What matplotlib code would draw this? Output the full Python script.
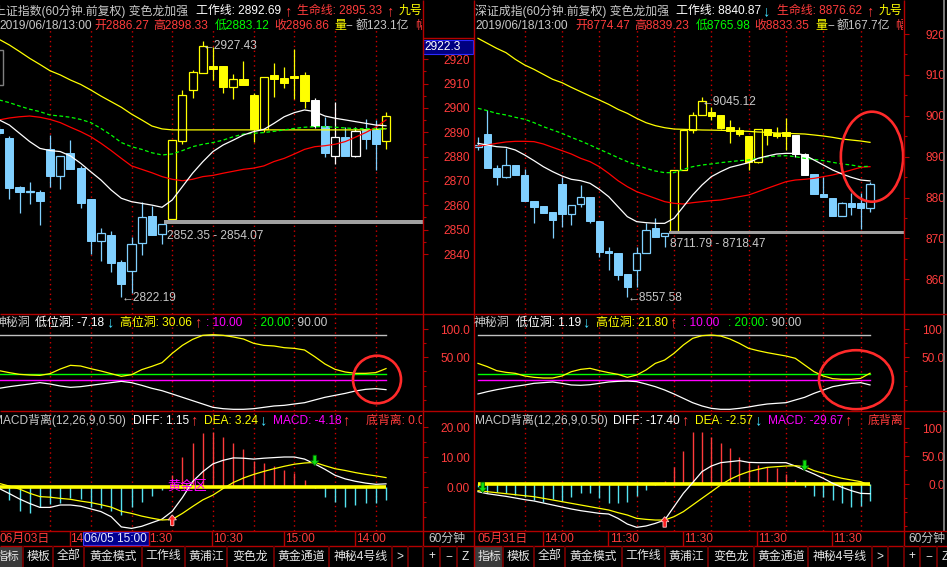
import matplotlib
matplotlib.use('Agg')
import matplotlib.pyplot as plt
from matplotlib.patches import Rectangle, Ellipse, Polygon
from matplotlib.transforms import Bbox, TransformedBbox

# ====================== DATA : 上证指数 (60分钟) ======================
sh_open = [2891.5, 2887.8, 2867.4, 2865.6, 2865.5, 2883.2, 2872.1, 2881.5, 2875.5, 2862.6,
           2845.2, 2847.8, 2836.7, 2832.9, 2844.4, 2855.6, 2848.1, 2854.2, 2886.3, 2907.3,
           2914.2, 2917.3, 2917.3, 2908.8, 2911.8, 2905.3, 2891.4, 2913.6, 2912.2, 2913.2,
           2913.4, 2903.3, 2892.6, 2880.3, 2888.1, 2880.3, 2891.2, 2891.2, 2886.27]
sh_high = [2892.5, 2888.5, 2867.9, 2869.5, 2866.2, 2888.9, 2880.1, 2886.8, 2876.2, 2862.6,
           2850.7, 2849.5, 2837.5, 2846.8, 2861.2, 2859.9, 2852.2, 2886.8, 2907.4, 2915.6,
           2927.43, 2924.9, 2917.3, 2914.0, 2919.3, 2906.0, 2912.6, 2918.4, 2916.7, 2924.1,
           2914.9, 2904.0, 2896.4, 2902.6, 2892.3, 2892.3, 2895.3, 2895.1, 2898.33]
sh_low = [2889.0, 2862.6, 2856.7, 2860.4, 2852.1, 2867.7, 2866.6, 2875.1, 2858.8, 2840.0,
          2837.3, 2832.6, 2822.19, 2823.8, 2839.5, 2848.0, 2844.0, 2854.2, 2885.3, 2904.2,
          2914.2, 2911.5, 2906.0, 2903.6, 2909.3, 2886.2, 2890.0, 2904.7, 2908.4, 2903.6,
          2899.9, 2891.9, 2879.9, 2877.0, 2880.3, 2879.7, 2883.0, 2874.5, 2883.12]
sh_close = [2889.9, 2867.3, 2865.5, 2865.9, 2861.9, 2872.2, 2880.1, 2875.1, 2861.1, 2845.5,
            2848.5, 2836.2, 2827.7, 2844.0, 2855.3, 2848.0, 2852.2, 2886.8, 2905.2, 2914.7,
            2925.5, 2916.2, 2908.8, 2911.8, 2909.3, 2891.4, 2912.6, 2912.1, 2910.4, 2912.5,
            2903.0, 2892.6, 2881.6, 2888.0, 2880.3, 2890.5, 2887.4, 2885.2, 2896.86]
sh_kind = list('bbbbbbbbbbbbbbbbbyyyyyyyyyyyyyywbwbwbby')
sh_yellow = [2928.2, 2925.9, 2923.2, 2920.4, 2917.9, 2915.3, 2913.6, 2911.5, 2909.7, 2907.4,
             2904.9, 2902.6, 2900.3, 2897.5, 2895.1, 2892.6, 2891.4, 2891.0, 2891.0, 2891.0,
             2891.0, 2891.0, 2891.0, 2891.0, 2891.0, 2891.0, 2891.0, 2891.0, 2891.0, 2891.0,
             2891.0, 2891.0, 2891.0, 2891.0, 2891.0, 2891.0, 2891.0, 2891.2, 2891.5]
sh_red = [2895.1, 2895.9, 2896.4, 2896.7, 2896.2, 2895.3, 2894.0, 2892.1, 2890.3, 2888.2,
          2885.5, 2882.5, 2879.3, 2876.2, 2874.8, 2873.4, 2871.8, 2870.7, 2870.1, 2870.7,
          2871.8, 2872.3, 2873.2, 2874.0, 2874.8, 2875.3, 2876.2, 2878.0, 2879.3, 2881.1,
          2883.0, 2884.1, 2884.5, 2885.1, 2886.2, 2888.0, 2889.9, 2892.1, 2895.1]
sh_green = [2903.3, 2902.2, 2900.8, 2899.5, 2898.5, 2897.1, 2896.7, 2896.2, 2895.3, 2894.0,
            2891.6, 2888.9, 2885.8, 2884.1, 2883.0, 2881.6, 2880.7, 2881.1, 2882.5, 2884.1,
            2885.1, 2885.8, 2886.8, 2888.2, 2889.3, 2889.6, 2889.9, 2890.4, 2891.0, 2891.6,
            2892.1, 2892.3, 2892.3, 2892.1, 2891.8, 2891.5, 2891.5, 2891.4, 2891.4]
sh_white = [2895.1, 2893.0, 2889.6, 2886.2, 2883.4, 2882.5, 2882.1, 2880.3, 2877.3, 2873.8,
            2870.4, 2866.3, 2862.9, 2861.5, 2860.8, 2860.1, 2859.2, 2862.2, 2867.7, 2873.2,
            2877.9, 2882.1, 2884.8, 2886.8, 2888.9, 2890.3, 2891.2, 2893.7, 2896.4, 2898.1,
            2899.2, 2898.5, 2896.7, 2895.8, 2895.1, 2894.4, 2893.7, 2893.0, 2892.69]
sh_band = (2852.35, 2854.07)
sh_band_start = 16
sh_hole_hi = [26.4, 22.9, 19.9, 18.7, 18.1, 21.1, 29.3, 35.8, 34.6, 29.9, 25.8, 21.1, 16.4, 19.3,
              28.2, 34.0, 40.5, 57.0, 71.1, 81.7, 88.8, 90.0, 88.8, 85.9, 82.3, 74.7, 71.1, 70.0,
              67.0, 65.8, 62.9, 51.1, 38.2, 28.7, 24.0, 21.7, 21.7, 22.9, 30.06]
sh_hole_lo = [-4.8, -1.9, 0.5, 2.8, 5.2, 2.8, -0.7, -3.1, -1.9, 0.5, 2.8, 5.2, 7.5, 5.2, 0.5,
              -4.8, -9.0, -14.8, -20.7, -26.6, -32.5, -38.4, -40.8, -41.9, -41.9, -40.8, -38.4,
              -36.0, -34.9, -32.5, -30.2, -25.4, -20.7, -17.2, -13.7, -9.5, -6.6, -5.4, -7.18]
sh_macd = [-0.5, -4.2, -7.8, -8.4, -6.4, -5.6, -5.1, -3.4, -4.0, -6.4, -7.0, -7.8, -9.2, -6.7,
           -4.8, -2.8, -0.9, 4.1, 10.2, 14.7, 18.0, 18.6, 16.7, 14.9, 12.7, 8.9, 8.0, 7.2, 5.8,
           4.7, 2.4, -0.3, -3.3, -4.8, -6.4, -5.9, -5.1, -5.3, -4.18]
sh_diff = [-0.4, -2.1, -3.9, -5.4, -6.7, -6.7, -5.9, -5.9, -6.3, -7.2, -8.1, -9.8, -13.2, -13.7,
           -13.0, -11.8, -10.6, -8.0, -3.4, 1.9, 5.2, 7.8, 9.0, 9.8, 9.7, 9.4, 9.7, 9.9, 10.1,
           10.1, 9.4, 7.8, 6.0, 4.0, 2.8, 2.0, 1.4, 1.0, 1.15]
sh_dea = [1.3, 0.4, -0.6, -2.0, -3.1, -3.3, -3.7, -4.0, -4.6, -5.1, -5.8, -6.6, -8.0, -8.7, -9.6,
          -10.3, -10.9, -10.7, -8.7, -6.4, -4.2, -2.6, -0.4, 1.6, 3.1, 4.3, 5.3, 6.2, 7.0, 7.7,
          8.1, 8.3, 7.2, 6.2, 5.6, 4.9, 4.3, 3.8, 3.24]
sh_up_arrows = [(17, -9.2)]
sh_down_arrows = [(31, 7.2)]
sh_price_ticks = [2840, 2850, 2860, 2870, 2880, 2890, 2900, 2910, 2920]
sh_price_labels = ['2840', '2850', '2860', '2870', '2880', '2890', '2900', '2910', '2920']
sh_macd_ticks = [20, 10, 0]
sh_macd_labels = ['20.00', '10.00', '0.00']

# ====================== DATA : 深证成指 (60分钟) ======================
sz_open = [8924.5, 8955.5, 8872.4, 8850.4, 8879.7, 8855.3, 8792.5, 8779.5, 8764.8, 8833.3,
           8759.9, 8784.4, 8800.7, 8743.6, 8670.3, 8663.7, 8613.2, 8622.9, 8663.7, 8724.9,
           8706.1, 8718.3, 8867.5, 8965.3, 9002.0, 9010.1, 9002.0, 8971.8, 8965.3, 8950.6,
           8887.9, 8966.9, 8957.1, 8960.4, 8953.1, 8906.6, 8857.7, 8808.8, 8799.8, 8755.8,
           8787.6, 8786.0, 8774.47]
sz_high = [8949.0, 9014.2, 8879.7, 8920.5, 8879.7, 8869.1, 8792.5, 8779.5, 8764.8, 8851.2,
           8782.7, 8830.0, 8800.7, 8743.6, 8680.0, 8663.7, 8613.2, 8680.0, 8737.1, 8749.3,
           8714.3, 8867.5, 8965.3, 9010.1, 9045.12, 9022.3, 9002.0, 8989.7, 8973.4, 8950.6,
           8966.9, 8966.9, 8973.4, 8993.8, 8953.1, 8909.9, 8857.7, 8851.2, 8799.8, 8790.1,
           8810.4, 8810.4, 8839.23]
sz_low = [8916.0, 8871.6, 8830.0, 8847.1, 8855.3, 8792.5, 8738.7, 8763.2, 8700.4, 8728.9,
          8732.2, 8776.2, 8737.1, 8655.6, 8622.9, 8598.5, 8557.58, 8582.2, 8663.7, 8704.5,
          8680.0, 8716.0, 8867.5, 8957.1, 9002.0, 8989.7, 8968.5, 8932.7, 8950.6, 8867.5,
          8883.8, 8928.6, 8944.9, 8916.4, 8900.1, 8855.3, 8808.8, 8800.7, 8755.8, 8755.8,
          8757.5, 8722.4, 8765.98]
sz_close = [8929.0, 8871.6, 8850.4, 8878.9, 8855.3, 8792.5, 8777.8, 8763.2, 8745.2, 8760.7,
            8782.7, 8800.7, 8743.6, 8667.8, 8665.4, 8610.7, 8582.2, 8663.7, 8720.8, 8704.5,
            8714.3, 8867.5, 8965.3, 9002.0, 9037.0, 8999.5, 8971.0, 8962.8, 8954.7, 8887.9,
            8966.9, 8953.9, 8950.6, 8950.6, 8906.6, 8855.3, 8808.8, 8800.7, 8755.8, 8786.0,
            8778.0, 8773.8, 8833.35]
sz_kind = list('bbbbbbbbbbbbbbbbbbbbbyyyyyyyyyyyyywwbbbbbbb')
sz_yellow = [9189.4, 9177.2, 9165.0, 9154.4, 9138.1, 9124.2, 9113.6, 9101.4, 9089.2, 9081.0,
             9069.6, 9059.0, 9048.4, 9038.6, 9028.0, 9015.8, 9006.0, 8993.8, 8983.2, 8975.9,
             8970.9, 8967.7, 8966.9, 8966.1, 8965.3, 8965.0, 8964.5, 8963.7, 8962.8, 8962.0,
             8960.4, 8959.6, 8958.0, 8957.1, 8956.3, 8955.5, 8953.1, 8950.6, 8947.3, 8943.3,
             8940.8, 8938.4, 8935.1]
sz_red = [8926.2, 8928.6, 8932.7, 8936.0, 8937.6, 8937.6, 8936.8, 8931.1, 8922.9, 8914.8,
          8906.6, 8896.0, 8887.9, 8875.6, 8859.3, 8841.4, 8826.7, 8814.5, 8806.4, 8798.2,
          8790.1, 8786.0, 8784.4, 8787.6, 8790.1, 8792.5, 8794.1, 8798.2, 8802.3, 8806.4,
          8814.5, 8822.7, 8830.8, 8838.9, 8843.0, 8844.7, 8847.1, 8851.2, 8855.3, 8861.0,
          8867.5, 8874.0, 8875.6]
sz_green = [9018.3, 9012.6, 9006.0, 9002.0, 8996.3, 8991.4, 8983.2, 8973.4, 8965.3, 8957.1,
            8947.3, 8938.4, 8928.6, 8918.0, 8908.2, 8897.6, 8887.9, 8879.7, 8871.6, 8865.0,
            8861.0, 8861.0, 8869.1, 8875.6, 8879.7, 8882.2, 8885.4, 8887.9, 8890.3, 8891.9,
            8896.0, 8900.1, 8901.7, 8902.5, 8900.1, 8896.0, 8893.6, 8890.3, 8886.2, 8882.2,
            8879.7, 8875.6, 8876.62]
sz_white = [8932.7, 8928.6, 8924.5, 8922.9, 8916.4, 8904.2, 8890.3, 8875.6, 8863.4, 8852.8,
            8844.7, 8841.4, 8834.9, 8820.2, 8802.3, 8777.8, 8753.4, 8741.2, 8738.7, 8737.1,
            8737.1, 8749.3, 8777.8, 8806.4, 8830.8, 8851.2, 8863.4, 8874.0, 8879.7, 8885.4,
            8896.0, 8901.7, 8906.6, 8908.2, 8908.2, 8904.2, 8891.9, 8879.7, 8867.5, 8857.7,
            8849.6, 8843.0, 8840.87]
sz_band = (8711.79, 8718.47)
sz_band_start = 20
sz_hole_hi = [39.3, 33.5, 26.4, 23.4, 21.7, 17.0, 14.6, 13.4, 13.4, 17.0, 24.6, 28.7, 30.5, 26.4,
              22.9, 19.9, 14.6, 18.7, 27.6, 39.3, 45.2, 57.0, 71.7, 83.5, 88.2, 89.4, 87.6, 82.3,
              74.7, 65.8, 61.7, 58.2, 55.2, 52.3, 48.2, 36.4, 24.6, 17.0, 12.3, 11.1, 11.1, 12.8,
              21.80]
sz_hole_lo = [-14.8, -10.7, -7.2, -4.2, -1.3, 1.1, 4.0, 5.2, 6.4, 4.0, 1.1, 0.5, 1.6, 4.0, 6.4,
              7.5, 8.1, 7.0, 2.8, -1.9, -7.8, -14.8, -22.5, -30.2, -36.0, -40.2, -41.9, -41.9,
              -40.2, -37.8, -34.9, -32.5, -31.3, -30.2, -25.4, -20.7, -13.7, -7.8, -1.9, 1.1,
              4.0, 5.2, 1.19]
sz_macd = [-5.0, -15.6, -13.8, -16.8, -19.8, -24.0, -28.7, -31.7, -27.5, -30.5, -24.0, -15.6,
           -16.8, -25.7, -33.5, -34.7, -31.7, -21.6, -10.8, -2.0, 6.0, 31.1, 59.9, 94.0, 94.0,
           85.0, 74.3, 64.1, 49.1, 40.1, 35.0, 31.1, 28.0, 18.0, 7.2, -4.8, -21.6, -22.8, -28.7,
           -34.7, -40.7, -39.5, -29.67]
sz_diff = [-13.8, -17.4, -19.8, -22.2, -25.1, -28.1, -30.5, -34.1, -37.7, -41.3, -44.9, -47.9,
           -50.3, -52.7, -53.9, -61.7, -71.9, -77.8, -75.4, -70.7, -64.7, -40.7, -16.8, 2.4,
           22.2, 32.3, 38.3, 40.1, 41.9, 38.9, 38.3, 38.3, 38.3, 38.3, 32.3, 25.1, 18.0, 10.2,
           1.2, -6.0, -12.0, -16.8, -17.40]
sz_dea = [-12.0, -13.8, -15.6, -17.4, -19.2, -21.0, -22.8, -25.7, -28.7, -31.7, -34.7, -37.7,
          -40.7, -43.7, -46.7, -51.5, -55.7, -61.7, -63.5, -64.7, -64.7, -58.7, -49.7, -37.7,
          -25.7, -13.8, -1.8, 8.4, 16.2, 22.2, 26.3, 29.9, 31.1, 32.3, 32.9, 31.1, 24.0, 19.2,
          14.4, 10.2, 7.2, 4.2, -2.57]
sz_up_arrows = [(20, -58.7)]
sz_down_arrows = [(0.5, -15.6), (35, 24.0)]
sz_price_ticks = [8600, 8700, 8800, 8900, 9000, 9100, 9200]
sz_price_labels = ['8600', '8700', '8800', '8900', '9000', '9100', '9200']
sz_macd_ticks = [100, 50, 0]
sz_macd_labels = ['100.0', '50.00', '0.00']

hole_ticks = [100, 50]
hole_labels = ['100.0', '50.00']
hole_levels = [90, 20, 10]

# ====================== STYLE ======================
W, H = 947, 567
plt.rcParams['font.family'] = ['Liberation Sans', 'Noto Sans CJK SC', 'DejaVu Sans']
plt.rcParams['axes.unicode_minus'] = False
FS = 8.6
RED_AX = '#b40000'
RED_TX = '#ff3c3c'
GRID_C = '#d00000'
GRAY = '#c8c8c8'
CYAN = '#40e0ff'
HIST_CYAN = '#55e3f0'
HIST_RED = '#ff3a3a'
MAG = '#ff00ff'
GRN = '#00ff00'
YEL = '#ffff00'
KCOL = {'b': '#80d0ff', 'y': '#ffff00', 'w': '#ffffff'}

fig = plt.figure(figsize=(W / 100, H / 100), dpi=100, facecolor='black')


def rect_px(x0, y0, x1, y1):
    return [x0 / W, 1 - y1 / H, (x1 - x0) / W, (y1 - y0) / H]


def setup(ax, xlim, ylim, ticks, labels, minor, pad_px):
    ax.set_facecolor('black')
    ax.set_xlim(*xlim)
    ax.set_ylim(*ylim)
    for s in ax.spines.values():
        s.set_visible(False)
    ax.set_xticks([])
    ax.yaxis.tick_right()
    ax.set_yticks(ticks)
    ax.set_yticklabels(labels)
    ax.set_yticks(minor, minor=True)
    ax.tick_params(axis='y', which='major', length=3.6, width=0.8, colors=RED_AX,
                   labelcolor=RED_TX, labelsize=FS, pad=pad_px * 0.72)
    ax.tick_params(axis='y', which='minor', length=2.0, width=0.8, colors=RED_AX)
    for t in ax.get_yticklabels():
        t.set_horizontalalignment('right')


def candles(ax, o, h, l, c, kind, width):
    for i in range(len(o)):
        col = KCOL[kind[i]]
        top, bot = max(o[i], c[i]), min(o[i], c[i])
        if c[i] > o[i]:
            ax.vlines(i, top, h[i], color=col, lw=0.9, zorder=2)
            ax.vlines(i, l[i], bot, color=col, lw=0.9, zorder=2)
            ax.add_patch(Rectangle((i - width / 2, bot), width, top - bot, facecolor='black',
                                   edgecolor=col, lw=0.9, zorder=2))
        else:
            ax.vlines(i, l[i], h[i], color=col, lw=0.9, zorder=2)
            ax.add_patch(Rectangle((i - width / 2, bot), width, top - bot, facecolor=col,
                                   edgecolor=col, lw=0.7, zorder=2))


def build_panel(x0, x1, xlim, cw, o, h, l, c, kind, yel, red, grn, wht, band, band_start,
                band_off, main_ylim, pticks, plabels, pminor, hi, lo, macd, diff, dea,
                mticks, mlabels, mminor, mylim, grid, pad_px, notes):
    n = len(o)
    idx = list(range(n))
    axm = fig.add_axes(rect_px(x0, 30, x1, 313.5))
    axi = fig.add_axes(rect_px(x0, 313.5, x1, 410.5))
    axd = fig.add_axes(rect_px(x0, 410.5, x1, 530.5))
    setup(axm, xlim, main_ylim, pticks, plabels, pminor, pad_px)
    setup(axi, xlim, (-44.0, 127.4), hole_ticks, hole_labels, [75, 25, 0, -25], pad_px)
    setup(axd, xlim, mylim, mticks, mlabels, mminor, pad_px)
    for ax in (axm, axi, axd):
        for g in grid:
            ax.axvline(g, color=GRID_C, lw=1.0, ls=(0, (1, 2.5)), zorder=0.5)
    # main chart
    candles(axm, o, h, l, c, kind, cw)
    axm.fill_between([band_start + band_off, xlim[1] + 1], band[0], band[1], color='#a0a0a0',
                     lw=0, zorder=3)
    axm.plot(idx, yel, color=YEL, lw=0.9, zorder=4)
    axm.plot(idx, red, color='#ff0000', lw=0.9, zorder=4)
    axm.plot(idx, grn, color=GRN, lw=0.9, ls=(0, (3, 2)), zorder=4)
    axm.plot(idx, wht, color='#ffffff', lw=0.9, zorder=4)
    for (xi, yv, txt, dy) in notes:
        axm.annotate(txt, xy=(xi, yv), xytext=(0, dy), textcoords='offset points',
                     color=GRAY, fontsize=FS, ha='left', va='center', zorder=6)
    # 神秘洞
    axi.plot([0, n - 1], [hole_levels[0]] * 2, color='#c0c0c0', lw=1.0)
    axi.plot([0, n - 1], [hole_levels[1]] * 2, color=GRN, lw=1.0)
    axi.plot([0, n - 1], [hole_levels[2]] * 2, color=MAG, lw=1.0)
    axi.plot(idx, hi, color=YEL, lw=0.9)
    axi.plot(idx, lo, color='#ffffff', lw=0.9)
    # MACD
    cols = [HIST_RED if v > 0 else HIST_CYAN for v in macd]
    axd.vlines(idx, 0, macd, colors=cols, lw=1.0, zorder=2)
    axd.plot([0, n - 1], [0, 0], color=YEL, lw=2.6, zorder=3, solid_capstyle='butt')
    axd.plot(idx, diff, color='#ffffff', lw=0.9, zorder=4)
    axd.plot(idx, dea, color=YEL, lw=0.9, zorder=4)
    return axm, axi, axd


# left panel
axm_l, axi_l, axd_l = build_panel(
    0, 422.5, (0.0818, 41.585), 0.8, sh_open, sh_high, sh_low, sh_close, sh_kind,
    sh_yellow, sh_red, sh_green, sh_white, sh_band, sh_band_start, 0.2,
    (2815.55, 2932.05), sh_price_ticks, sh_price_labels,
    [2845, 2855, 2865, 2875, 2885, 2895, 2905, 2915, 2925],
    sh_hole_hi, sh_hole_lo, sh_macd, sh_diff, sh_dea, sh_macd_ticks, sh_macd_labels,
    [15, 5, -5, -10], (-14.4, 25.6), [5, 9, 13, 17, 21, 25, 29, 33, 37], 42.5,
    [(20, sh_high[20], '←2927.43', -3.5), (12, sh_low[12], '←2822.19', -0.7),
     (16.45, sh_band[0], '2852.35 - 2854.07', -8.5)])
axd_l.text(18.45, 0.3, '黄金区', color=MAG, fontsize=9.5, ha='center', va='center', zorder=5)

# right panel
axm_r, axi_r, axd_r = build_panel(
    474.5, 903.5, (-0.375, 45.59), 0.82, sz_open, sz_high, sz_low, sz_close, sz_kind,
    sz_yellow, sz_red, sz_green, sz_white, sz_band, sz_band_start, 0.5,
    (8516.6, 9209.8), sz_price_ticks, sz_price_labels, [8650, 8750, 8850, 8950, 9050, 9150],
    sz_hole_hi, sz_hole_lo, sz_macd, sz_diff, sz_dea, sz_macd_ticks, sz_macd_labels,
    [75, 25, -25, -50, -75], (-83.5, 132.0), [5, 9, 13, 17, 21, 25, 29, 33, 37, 41], 43.2,
    [(24, sz_high[24], '←9045.12', -3.6), (16, sz_low[16], '←8557.58', -1.1),
     (20.57, sz_band[0], '8711.79 - 8718.47', -7.5)])

# ====================== OVERLAY (frames, headers, tabs) ======================
ov = fig.add_axes([0, 0, 1, 1])
ov.set_xlim(0, W)
ov.set_ylim(H, 0)
ov.set_facecolor('none')
ov.axis('off')
ov.set_zorder(10)


def to_ov(ax, x, y):
    px, py = ax.transData.transform((x, y))
    return px * 100 / fig.dpi, H - py * 100 / fig.dpi


def arrow(ax, x, y, up, fc, ec):
    tx, ty = to_ov(ax, x, y)
    s = 1 if up else -1
    pts = [(tx, ty), (tx - 4.2, ty + s * 5), (tx - 1.7, ty + s * 5), (tx - 1.7, ty + s * 10.5),
           (tx + 1.7, ty + s * 10.5), (tx + 1.7, ty + s * 5), (tx + 4.2, ty + s * 5)]
    ov.add_patch(Polygon(pts, closed=True, facecolor=fc, edgecolor=ec, lw=0.6, zorder=6))


for ax, ups, downs in ((axd_l, sh_up_arrows, sh_down_arrows), (axd_r, sz_up_arrows, sz_down_arrows)):
    for x, y in ups:
        arrow(ax, x, y, True, '#ff2020', '#ffc8c8')
    for x, y in downs:
        arrow(ax, x, y, False, '#10e010', '#006000')


def hline(y, x0, x1, c=RED_AX, lw=1.0):
    ov.plot([x0, x1], [y, y], color=c, lw=lw, solid_capstyle='butt')


def vline(x, y0, y1, c=RED_AX, lw=1.0):
    ov.plot([x, x], [y0, y1], color=c, lw=lw, solid_capstyle='butt')


def clip_bb(x0, x1):
    return TransformedBbox(Bbox.from_extents(x0 / W, 0, x1 / W, 1), fig.transFigure)


def segs(items, y, cx0, cx1, fs=FS):
    bb = clip_bb(cx0, cx1)
    for x, s, c in items:
        size = 10.5 if s in ('↑', '↓') else fs
        t = ov.text(x, y, s, color=c, fontsize=size, ha='left', va='center', clip_on=True)
        t.set_clip_box(bb)


# right edge scrollbar / clip
ov.add_patch(Rectangle((944.5, 0), 3, 531, facecolor='black', edgecolor='none'))
vline(944, 0, 531, c='#909090', lw=1.2)

# frame lines
for y in (313.5, 410.5, 530.5, 545.5):
    hline(y, 0, W)
vline(422.5, 0, 545.5)
vline(473.5, 0, H)
vline(903.5, 0, 545.5)
hline(38, 422.5, 473.5)
ov.add_patch(Rectangle((-4, 50), 6.5, 35, facecolor='none', edgecolor='#808080', lw=1.0))

# current price box
ov.add_patch(Rectangle((423, 39.5), 50, 14.5, facecolor='#000080', edgecolor='#2a2aff', lw=0.8))
ov.text(424.5, 46.8, '2922.3', color='white', fontsize=FS, ha='left', va='center')

# headers left
segs([(-6, '上证指数(60分钟.前复权) 变色龙加强', GRAY), (196, '工作线: 2892.69', 'white'),
      (284, '↑', RED_TX), (297, '生命线: 2895.33', RED_TX), (386, '↑', RED_TX),
      (399, '九号', YEL)], 11.0, 0, 422)
segs([(-1, '2019/06/18/13:00', GRAY), (94, '开2886.27', RED_TX), (153, '高2898.33', RED_TX),
      (215, '低2883.12', GRN), (274, '收2896.86', RED_TX), (334, '量', YEL),
      (346, '--', GRAY), (356, '额123.1亿', GRAY), (415, '幅', RED_TX)], 26.0, 0, 422)
segs([(-5, '神秘洞', GRAY), (35, '低位洞: -7.18', 'white'), (106.5, '↓', CYAN),
      (120, '高位洞: 30.06', YEL), (194.5, '↑', RED_TX), (206, ': 10.00', MAG),
      (254, ': 20.00', GRN), (291, ': 90.00', GRAY)], 322.5, 0, 422)
segs([(-7, 'MACD背离(12,26,9,0.50)', GRAY), (133, 'DIFF: 1.15', 'white'), (190.5, '↑', RED_TX),
      (204, 'DEA: 3.24', YEL), (259.5, '↓', CYAN), (273, 'MACD: -4.18', MAG),
      (342.5, '↑', RED_TX), (366, '底背离: 0.00', RED_TX)], 420.5, 0, 422)

# headers right
segs([(475, '深证成指(60分钟.前复权) 变色龙加强', GRAY), (676, '工作线: 8840.87', 'white'),
      (762.5, '↓', CYAN), (777, '生命线: 8876.62', RED_TX), (866.5, '↑', RED_TX),
      (879, '九号', YEL)], 11.0, 474, 903)
segs([(475, '2019/06/18/13:00', GRAY), (575, '开8774.47', RED_TX), (634, '高8839.23', RED_TX),
      (696, '低8765.98', GRN), (754, '收8833.35', RED_TX), (815, '量', YEL),
      (827, '--', GRAY), (837, '额167.7亿', GRAY), (895, '幅', RED_TX)], 26.0, 474, 903)
segs([(474, '神秘洞', GRAY), (516, '低位洞: 1.19', 'white'), (582.5, '↓', CYAN),
      (596, '高位洞: 21.80', YEL), (669.5, '↑', RED_TX), (683, ': 10.00', MAG),
      (728, ': 20.00', GRN), (765, ': 90.00', GRAY)], 322.5, 474, 903)
segs([(475, 'MACD背离(12,26,9,0.50)', GRAY), (613, 'DIFF: -17.40', 'white'),
      (681.5, '↑', RED_TX), (695, 'DEA: -2.57', YEL), (754.5, '↓', CYAN),
      (768, 'MACD: -29.67', MAG), (844.5, '↑', RED_TX), (868, '底背离', RED_TX)], 420.5, 474, 903)

# time axis rows
for x in (69.5, 148.5, 212, 284, 355):
    vline(x, 530.5, 545.5)
for x in (542.7, 608, 682.7, 757, 831.7):
    vline(x, 530.5, 545.5)
ov.add_patch(Rectangle((83, 531.5), 65.5, 13.5, facecolor='#000090', edgecolor='#3a3aff', lw=0.8))
segs([(-0.5, '06月03日', RED_TX), (70, '14', RED_TX), (149, '1:30', RED_TX),
      (213, '10:30', RED_TX), (285, '15:00', RED_TX), (356, '14:00', RED_TX),
      (428, '60分钟', GRAY)], 538.5, 0, 947)
segs([(84.5, '06/05 15:00', '#e8e8ff')], 538.5, 83, 148.5)
segs([(478, '05月31日', RED_TX), (544, '14:00', RED_TX), (610, '11:30', RED_TX),
      (684, '11:30', RED_TX), (758, '11:30', RED_TX), (833, '11:30', RED_TX),
      (908, '60分钟', GRAY)], 538.5, 474, 947)

# tabs
TAB_C = '#e6e6e6'
ov.add_patch(Rectangle((0, 546.5), 22.5, 20.5, facecolor='#3a3a3a', edgecolor='none'))
ov.add_patch(Rectangle((475, 546.5), 27.5, 20.5, facecolor='#3a3a3a', edgecolor='none'))
for x in (23, 53, 84, 142, 185, 227, 274, 329, 392, 408, 423, 440, 457,
          503, 534, 565, 622, 665, 708, 754, 808, 872, 888, 903.5, 920, 937):
    vline(x, 546, H, c='#6a0000', lw=1.4)
tabs_l = [(8, '指标'), (38, '模板'), (68.5, '全部'), (113, '黄金模式'), (163.5, '工作线'),
          (206, '黄浦江'), (250.5, '变色龙'), (301.5, '黄金通道'), (360.5, '神秘4号线'),
          (400, '>'), (431.5, '+'), (448.5, '−'), (465, 'Z')]
tabs_r = [(489, '指标'), (518.5, '模板'), (549.5, '全部'), (593.5, '黄金模式'), (643.5, '工作线'),
          (686.5, '黄浦江'), (731, '变色龙'), (781, '黄金通道'), (840, '神秘4号线'),
          (880, '>'), (912, '+'), (928.5, '−'), (945.5, 'Z')]
for x, s in tabs_l + tabs_r:
    ov.text(x, 556.5, s, color=TAB_C, fontsize=FS, ha='center', va='center')

# red ellipses (annotations)
for cx, cy, ew, eh in [(872, 156.7, 62.3, 90), (856, 379.7, 74, 59), (377, 379.5, 48, 47.6)]:
    ov.add_patch(Ellipse((cx, cy), ew, eh, facecolor='none', edgecolor='#ff2a2a', lw=1.9))

fig.savefig('out.png', dpi=100, facecolor='black')
